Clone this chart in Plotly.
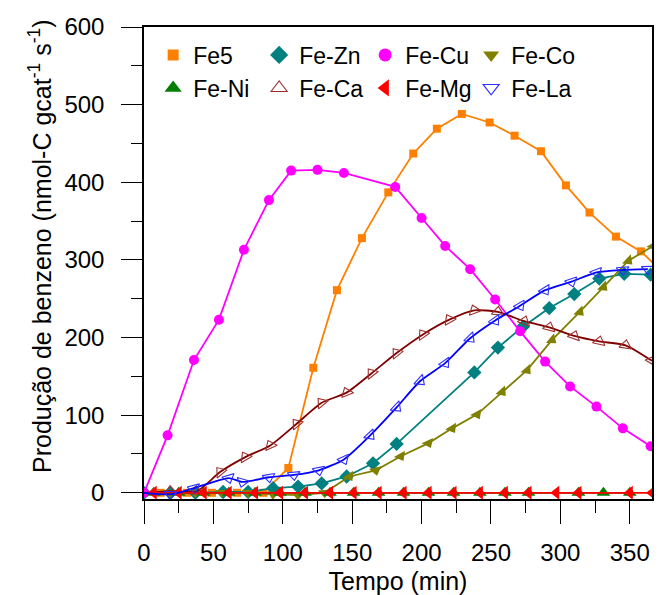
import plotly.graph_objects as go

# ---------------- data ----------------
t_fe5 = [0, 12, 31, 49, 67, 86, 104, 122, 139, 157, 176, 194, 211, 229, 249, 267, 286, 304, 321, 340, 358, 376]
y_fe5 = [0, 0, 0, 0, 0, 0, 32, 161, 261, 328, 387, 437, 469, 488, 477, 460, 440, 396, 361, 330, 311, 280]

t_zn = [0, 19, 37, 57, 75, 93, 111, 128, 146, 165, 182, 238, 255, 273, 292, 310, 328, 346, 365]
y_zn = [0, 0, 0, 1, 1, 6, 8, 12, 21, 38, 63, 155, 187, 214, 238, 256, 276, 282, 281]

t_cu = [0, 17, 36, 54, 72, 90, 106, 125, 144, 181, 200, 217, 235, 253, 271, 289, 307, 326, 345, 365]
y_cu = [0, 74, 171, 223, 313, 377, 415, 416, 412, 394, 354, 318, 288, 249, 208, 169, 137, 111, 83, 60]

t_co = [0, 19, 37, 56, 75, 93, 111, 130, 148, 167, 185, 205, 222, 240, 258, 276, 294, 314, 331, 349, 367]
y_co = [0, 0, 0, 0, 0, -2, -3, 0, 21, 29, 47, 64, 83, 101, 130, 158, 197, 233, 265, 299, 318]

t_ni = [0, 7, 25, 43, 61, 80, 98, 116, 134, 151, 169, 187, 205, 223, 242, 260, 277, 313, 331, 350]
y_ni = [0] * len(t_ni)

t_ca = [1, 19, 38, 55, 73, 91, 110, 128, 146, 164, 182, 201, 220, 238, 255, 274, 292, 310, 328, 347, 366]
y_ca = [0, 2, 2, 27, 46, 61, 89, 116, 129, 154, 180, 204, 223, 235, 233, 221, 213, 202, 195, 190, 170]

t_mg = [0, 7, 25, 43, 61, 80, 98, 116, 134, 151, 169, 187, 205, 223, 242, 260, 277, 297, 313, 350, 366]
y_mg = [0] * len(t_mg)

t_la = [0, 19, 36, 61, 71, 90, 108, 126, 144, 163, 182, 199, 217, 235, 253, 271, 289, 308, 326, 345, 363]
y_la = [0, -2, 6, 19, 14, 20, 23, 29, 43, 74, 110, 144, 167, 199, 222, 241, 261, 272, 284, 287, 288]

x_ticks = [0, 50, 100, 150, 200, 250, 300, 350]
y_ticks = [0, 100, 200, 300, 400, 500, 600]
x_title = "Tempo (min)"
y_title = "Produção de benzeno (nmol-C gcat<sup>-1</sup> s<sup>-1</sup>)"

FONT = "Liberation Sans, Arial, sans-serif"

fig = go.Figure()


def add(name, x, y, color, symbol, size, legend, mcolor=None, open_=False,
        shape="linear", lw=1.8, turn=False):
    mcolor = mcolor or color
    lw_m = 1.1 if open_ else 0
    marker = dict(symbol=symbol, size=size, color=mcolor,
                  line=dict(width=lw_m, color=mcolor))
    if turn:  # triangles follow the direction of the line, as in the reference
        marker.update(angle=-90, angleref="previous")
    fig.add_trace(go.Scatter(
        x=x, y=y, name=name, mode="lines+markers", showlegend=False,
        line=dict(color=color, width=lw, shape=shape, smoothing=0.6),
        marker=marker))
    # legend entry: marker only
    fig.add_trace(go.Scatter(
        x=[None], y=[None], name=name, mode="markers", legend=legend,
        marker=dict(symbol=symbol, size=size + 3, color=mcolor,
                    line=dict(width=lw_m, color=mcolor))))


add("Fe5", t_fe5, y_fe5, "#FF8000", "square", 8, "legend")
add("Fe-Zn", t_zn, y_zn, "#008080", "diamond", 11, "legend")
add("Fe-Cu", t_cu, y_cu, "#FF00FF", "circle", 10, "legend")
add("Fe-Co", t_co, y_co, "#808000", "triangle-down", 11, "legend", turn=True)
add("Fe-Ni", t_ni, y_ni, "#008000", "triangle-up", 12, "legend2", turn=True)
add("Fe-Ca", t_ca, y_ca, "#800000", "triangle-up-open", 11, "legend2",
    mcolor="#A03030", open_=True, shape="spline", turn=True)
add("Fe-Mg", t_mg, y_mg, "#FF0000", "triangle-left", 12, "legend2", turn=True)
add("Fe-La", t_la, y_la, "#0000FF", "triangle-down-open", 11, "legend2",
    mcolor="#3030FF", open_=True, shape="spline", turn=True)

axis_common = dict(
    showline=True, linecolor="black", linewidth=1.5, mirror=True,
    ticks="outside", tickcolor="black", tickwidth=1.2,
    showgrid=False, zeroline=False, automargin=False,
    tickfont=dict(family=FONT, size=24, color="black"),
)

fig.update_xaxes(
    range=[0, 366], tickvals=x_ticks,
    ticklen=23, ticklabelstandoff=8,
    minor=dict(dtick=25, tick0=0, ticks="outside", ticklen=12, tickcolor="black", tickwidth=1.2),
    title=dict(text=x_title, font=dict(family=FONT, size=25, color="black"), standoff=18),
    **axis_common)

fig.update_yaxes(
    range=[-8, 600], tickvals=y_ticks,
    ticklen=21, ticklabelstandoff=12,
    minor=dict(dtick=50, tick0=0, ticks="outside", ticklen=11, tickcolor="black", tickwidth=1.2),
    **axis_common)

# y-axis title (placed as in the reference, slightly above the plot centre)
fig.add_annotation(text=y_title, xref="paper", yref="paper",
                   x=(40 - 144) / 508, y=1 - (246 - 27) / 472,
                   xanchor="center", yanchor="middle", textangle=-90,
                   showarrow=False, font=dict(family=FONT, size=25, color="black"))

leg_common = dict(orientation="h", xanchor="left", yanchor="middle",
                  bgcolor="rgba(0,0,0,0)", borderwidth=0,
                  font=dict(family=FONT, size=23, color="black"),
                  entrywidth=61, entrywidthmode="pixels", itemsizing="trace")

fig.update_layout(
    width=665, height=595,
    margin=dict(l=144, r=13, t=27, b=96),
    paper_bgcolor="white", plot_bgcolor="white",
    font=dict(family=FONT, color="black"),
    legend=dict(x=0.018, y=1 - (55 - 27) / 472, **leg_common),
    legend2=dict(x=0.018, y=1 - (88 - 27) / 472, **leg_common),
)

fig.write_html("out.html")
